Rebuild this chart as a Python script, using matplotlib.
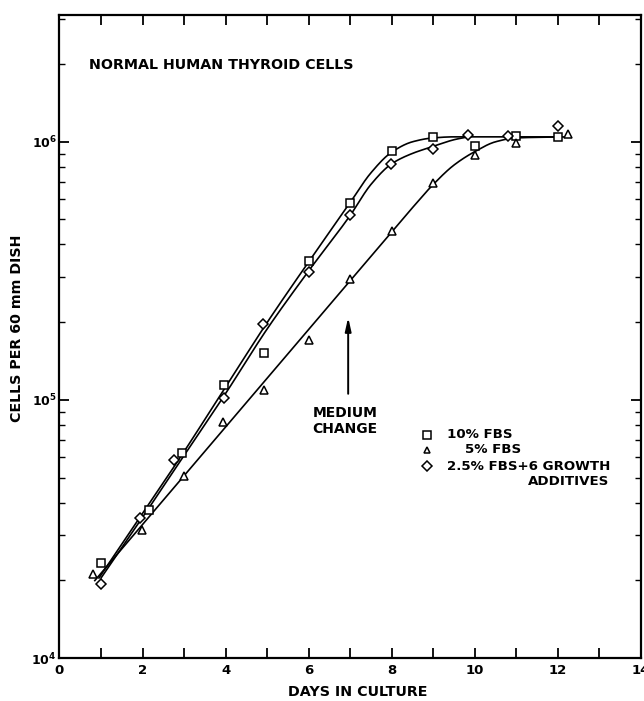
import numpy as np
import matplotlib
matplotlib.use("Agg")
import matplotlib.pyplot as plt
from matplotlib.ticker import LogLocator, FixedLocator, NullFormatter

plt.rcParams['font.family'] = ['DejaVu Sans']
plt.rcParams['mathtext.fontset'] = 'dejavusans'
plt.rcParams['mathtext.default'] = 'bf'

# ---------------- data ----------------
sq_days = [1.0, 2.15, 2.95, 3.95, 4.93, 6.0, 7.0, 8.0, 9.0, 10.0, 11.0, 12.0]
sq_vals = [2.33e4, 3.75e4, 6.2e4, 1.14e5, 1.52e5, 3.45e5, 5.8e5, 9.2e5, 1.045e6, 9.6e5, 1.05e6, 1.045e6]

tri_days = [0.8, 1.98, 3.0, 3.93, 4.93, 6.0, 7.0, 8.0, 9.0, 10.0, 11.0, 12.25]
tri_vals = [2.12e4, 3.13e4, 5.07e4, 8.2e4, 1.09e5, 1.7e5, 2.95e5, 4.5e5, 6.9e5, 8.9e5, 9.85e5, 1.07e6]

dia_days = [0.99, 1.95, 2.75, 3.95, 4.9, 6.0, 7.0, 7.99, 9.0, 9.84, 10.8, 12.0]
dia_vals = [1.94e4, 3.48e4, 5.85e4, 1.02e5, 1.96e5, 3.12e5, 5.2e5, 8.2e5, 9.4e5, 1.06e6, 1.05e6, 1.15e6]

# hand-drawn fitted curves (knots, log10 of cells)
sq_curve_days = [0.95, 2, 3, 4, 5, 6, 7, 7.5, 8, 8.5, 9, 9.5, 10, 12]
sq_curve_logs = [4.31, 4.56, 4.80, 5.05, 5.30, 5.535, 5.765, 5.88, 5.96, 6.0, 6.015, 6.019, 6.019, 6.019]

dia_curve_days = [1.0, 2, 3, 4, 5, 6, 7, 7.5, 8, 8.5, 9, 9.5, 9.84]
dia_curve_logs = [4.31, 4.545, 4.785, 5.025, 5.275, 5.50, 5.715, 5.835, 5.915, 5.955, 5.982, 6.008, 6.019]

tri_curve_days = [0.85, 3, 5, 7, 8, 8.5, 9, 9.5, 10, 10.5, 11, 12.25]
tri_curve_logs = [4.30, 4.706, 5.084, 5.462, 5.651, 5.745, 5.835, 5.91, 5.962, 6.0, 6.015, 6.019]

legend_labels = ["10% FBS", "5% FBS", "2.5% FBS+6 GROWTH", "ADDITIVES"]
x_ticks = [0, 2, 4, 6, 8, 10, 12, 14]
y_ticks = [1e4, 1e5, 1e6]
y_ticklabels = [r"$\mathbf{10^4}$", r"$\mathbf{10^5}$", r"$\mathbf{10^6}$"]


def pchip(x, y, xs):
    x = np.asarray(x, float); y = np.asarray(y, float)
    h = np.diff(x); d = np.diff(y) / h
    n = len(x)
    m = np.zeros(n)
    for k in range(1, n - 1):
        if d[k - 1] * d[k] <= 0:
            m[k] = 0
        else:
            w1 = 2 * h[k] + h[k - 1]; w2 = h[k] + 2 * h[k - 1]
            m[k] = (w1 + w2) / (w1 / d[k - 1] + w2 / d[k])
    m[0] = d[0]; m[-1] = d[-1]
    idx = np.clip(np.searchsorted(x, xs) - 1, 0, n - 2)
    t = (xs - x[idx]) / h[idx]
    h00 = 2 * t**3 - 3 * t**2 + 1; h10 = t**3 - 2 * t**2 + t
    h01 = -2 * t**3 + 3 * t**2; h11 = t**3 - t**2
    return h00 * y[idx] + h10 * h[idx] * m[idx] + h01 * y[idx + 1] + h11 * h[idx] * m[idx + 1]


fig = plt.figure(figsize=(6.44, 7.01), dpi=100)
ax = fig.add_axes([59.5 / 644, 1 - 658 / 701, (641 - 59.5) / 644, (658 - 15) / 701])
ax.set_yscale('log')
ax.set_xlim(0, 14)
ax.set_ylim(1e4, 10 ** (6 + (141.7 - 15) / 258))

for cd, cl in [(sq_curve_days, sq_curve_logs), (dia_curve_days, dia_curve_logs), (tri_curve_days, tri_curve_logs)]:
    xs = np.linspace(cd[0], cd[-1], 400)
    ax.plot(xs, 10 ** pchip(cd, cl, xs), color='black', lw=1.2, zorder=2)

mk = dict(linestyle='none', mfc='white', mec='black', mew=1.1, zorder=3)
ax.plot(sq_days, sq_vals, marker='s', ms=6.0, **mk)
ax.plot(tri_days, tri_vals, marker='^', ms=5.2, **mk)
ax.plot(dia_days, dia_vals, marker='D', ms=5.5, **mk)

# medium change arrow
ax.annotate('', xy=(6.95, 2.14e5), xytext=(6.95, 1.03e5),
            arrowprops=dict(arrowstyle='-|>,head_length=0.8,head_width=0.18', color='black', lw=1.4))
ax.text(6.88, 10 ** 4.919, "MEDIUM\nCHANGE", ha='center', va='center', fontsize=10,
        fontweight='bold', linespacing=1.2)

ax.text(0.7, 10 ** 6.297, "NORMAL HUMAN THYROID CELLS", ha='left', va='center', fontsize=10.3,
        fontweight='bold')

# legend
leg_y = [10 ** 4.864, 10 ** 4.806, 10 ** 4.742, 10 ** 4.683]
ax.plot([8.85], [leg_y[0]], marker='s', ms=5.6, **mk)
ax.plot([8.85], [leg_y[1]], marker='^', ms=5.0, **mk)
ax.plot([8.85], [leg_y[2]], marker='D', ms=5.3, **mk)
ax.text(9.34, leg_y[0], legend_labels[0], ha='left', va='center', fontsize=9.6, fontweight='bold')
ax.text(9.77, leg_y[1], legend_labels[1], ha='left', va='center', fontsize=9.6, fontweight='bold')
ax.text(9.34, leg_y[2], legend_labels[2], ha='left', va='center', fontsize=9.6, fontweight='bold')
ax.text(13.24, leg_y[3], legend_labels[3], ha='right', va='center', fontsize=9.6, fontweight='bold')

# axes styling
for s in ax.spines.values():
    s.set_linewidth(1.6)
ax.xaxis.set_major_locator(FixedLocator(x_ticks))
ax.xaxis.set_minor_locator(FixedLocator(list(range(1, 14, 2))))
ax.set_xticklabels([str(t) for t in x_ticks], fontsize=9.5, fontweight='bold')
ax.yaxis.set_major_locator(FixedLocator(y_ticks))
ax.set_yticklabels(y_ticklabels, fontsize=9)
ax.yaxis.set_minor_locator(LogLocator(base=10, subs=np.arange(2, 10), numticks=20))
ax.yaxis.set_minor_formatter(NullFormatter())
ax.tick_params(which='major', direction='in', length=7, width=1.3, top=True, right=True, pad=4)
ax.tick_params(which='minor', direction='in', length=4, width=1.0, top=True, right=True)
ax.tick_params(axis='x', which='minor', length=7, width=1.3)
ax.tick_params(axis='y', pad=2)

fig.text(358 / 644, 1 - 692 / 701, "DAYS IN CULTURE", ha='center', va='center', fontsize=10.3,
         fontweight='bold')
fig.text(17 / 644, 1 - 328 / 701, "CELLS PER 60 mm DISH", ha='center', va='center', rotation=90,
         fontsize=10.3, fontweight='bold')

fig.savefig("out.png", dpi=100, facecolor='white')
